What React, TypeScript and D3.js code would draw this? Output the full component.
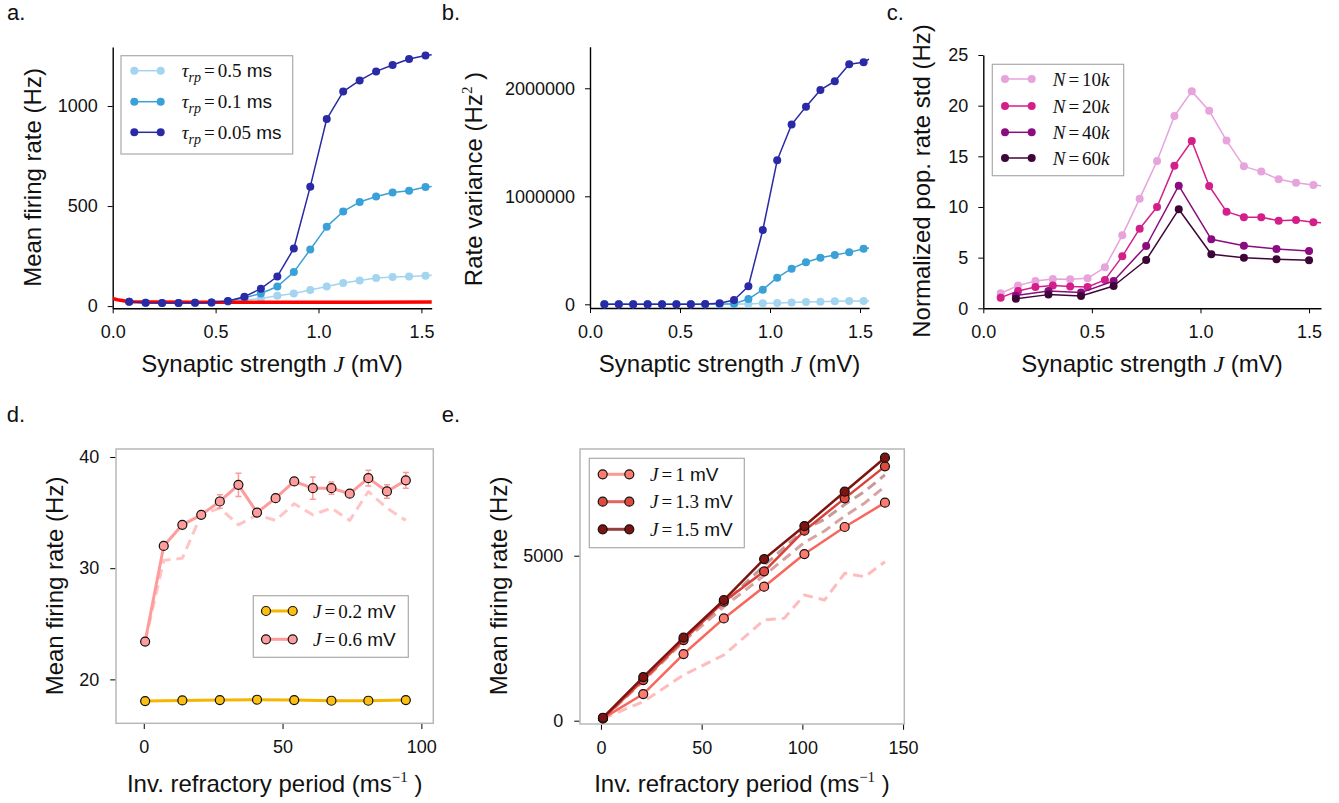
import { useEffect, useRef } from "react";
import * as d3 from "d3";

const SANS = "'Liberation Sans', Arial, Helvetica, sans-serif";
const SERIF = "'Liberation Serif', 'Times New Roman', serif";

// synaptic strength J (mV), panels a-c (last point lies past the axis and gets clipped)
const jValues = [0.08, 0.16, 0.24, 0.32, 0.4, 0.48, 0.56, 0.64, 0.72, 0.8, 0.88, 0.96, 1.04, 1.12, 1.2, 1.28, 1.36, 1.44, 1.52, 1.6];
const jCoarse = [0.15, 0.3, 0.45, 0.6, 0.75, 0.9, 1.05, 1.2, 1.35, 1.5];

// a. mean firing rate (Hz)
const rateTau05 = [22, 17, 15, 15, 17, 18, 22, 30, 38, 52, 63, 80, 98, 115, 128, 140, 145, 148, 152, 156];
const rateTau01 = [22, 17, 15, 15, 17, 18, 24, 42, 63, 98, 170, 283, 397, 473, 520, 548, 568, 577, 595, 602];
const rateTau005 = [22, 17, 15, 15, 17, 18, 25, 47, 87, 148, 288, 597, 935, 1072, 1128, 1173, 1205, 1235, 1252, 1262];
const theoryJ = [0, 0.03, 0.06, 0.1, 0.2, 0.4, 0.8, 1.2, 1.6];
const theoryRate = [38, 30, 25, 21.5, 20, 19.5, 19.5, 19.5, 20];

// b. rate variance (Hz^2)
const varTau05 = [0, 0, 0, 0, 0, 0, 0, 0, 0, 2000, 4000, 9000, 12000, 18000, 22000, 25000, 28000, 31000, 31000, 33000];
const varTau01 = [0, 0, 0, 0, 0, 0, 0, 0, 3000, 6000, 49000, 136000, 247000, 330000, 389000, 432000, 457000, 481000, 515000, 534000];
const varTau005 = [0, 0, 0, 0, 0, 0, 0, 2000, 9000, 40000, 167000, 688000, 1333000, 1664000, 1830000, 1985000, 2065000, 2222000, 2241000, 2320000];

// c. normalized population rate std (Hz)
const std10k = [1.48, 2.24, 2.7, 2.89, 2.86, 2.96, 4.05, 7.2, 10.82, 14.54, 18.98, 21.41, 19.5, 16.55, 14.01, 13.49, 12.73, 12.4, 12.17, 12.0];
const std20k = [1.05, 1.71, 2.1, 2.24, 2.14, 2.1, 2.8, 5.13, 7.86, 10.0, 14.08, 16.51, 12.07, 9.54, 8.98, 8.98, 8.65, 8.72, 8.49, 8.4];
const std40k = [1.25, 1.71, 1.55, 2.7, 6.15, 12.1, 6.81, 6.18, 5.86, 5.66];
const std60k = [0.95, 1.35, 1.22, 2.2, 4.77, 9.77, 5.33, 5.0, 4.84, 4.74];

// d. mean firing rate vs inverse refractory period (ms^-1)
const invRefD = [0.5, 7.2, 13.9, 20.7, 27.4, 34.1, 40.8, 47.5, 54.2, 60.9, 67.6, 74.2, 80.9, 87.6, 94.4];
const rateJ06 = [23.4, 32.0, 33.9, 34.8, 36.0, 37.5, 35.0, 36.3, 37.8, 37.2, 37.2, 36.7, 38.1, 36.9, 37.9];
const errJ06 = [0.1, 0.15, 0.15, 0.2, 0.6, 1.05, 0.35, 0.2, 0.2, 1.0, 0.55, 0.2, 0.7, 0.6, 0.7];
const theoryJ06 = [23.4, 30.7, 30.9, 34.8, 35.4, 33.9, 34.8, 34.3, 35.8, 34.8, 35.4, 34.3, 36.9, 35.4, 34.3];
const invRefD02 = [0.5, 13.9, 27.4, 40.8, 54.2, 67.6, 80.9, 94.4];
const rateJ02 = [18.05, 18.11, 18.14, 18.17, 18.14, 18.08, 18.08, 18.14];

// e. high coupling
const invRefE = [1, 21, 41, 61, 81, 101, 121, 141];
const rateJ1 = [70, 808, 2020, 3100, 4060, 5050, 5870, 6606];
const rateJ13 = [70, 1232, 2444, 3606, 4525, 5757, 6737, 7707];
const rateJ15 = [90, 1323, 2515, 3657, 4899, 5899, 6939, 7970];
const invRefEDash = [1, 21, 41, 61, 81, 91, 101, 111, 121, 131, 141];
const theoryJ1 = [70, 576, 1385, 1991, 3052, 3103, 3809, 3658, 4467, 4364, 4818];
const theoryJ13 = [60, 1200, 2400, 3450, 4400, 4900, 5400, 5750, 6200, 6600, 7100];
const theoryJ15 = [60, 1280, 2480, 3550, 4700, 5250, 5800, 6100, 6550, 6950, 7450];

type Part = { t: string; f: "it" | "rm" | "sans"; size?: number; dy?: number; dx?: number };

function rich(text: any, parts: Part[]) {
    parts.forEach((p) => {
        const ts = text
            .append("tspan")
            .text(p.t)
            .attr("font-family", p.f === "sans" ? SANS : SERIF)
            .attr("font-style", p.f === "it" ? "italic" : "normal");
        if (p.size) ts.attr("font-size", p.size);
        if (p.dy) ts.attr("dy", p.dy);
        if (p.dx) ts.attr("dx", p.dx);
    });
}

function drawAxes(svg: any, x: any, y: any, xt: number[], yt: number[], xf: any, yf: any, boxed: boolean) {
    const [x0, x1] = x.range();
    const [yb, yt0] = y.range();
    if (boxed) {
        svg.append("rect")
            .attr("x", x0)
            .attr("y", yt0)
            .attr("width", x1 - x0)
            .attr("height", yb - yt0)
            .attr("fill", "none")
            .attr("stroke", "#b8b8b8")
            .attr("stroke-width", 1.5);
    }
    const gx = svg
        .append("g")
        .attr("transform", `translate(0,${boxed ? yb + 0.75 : yb})`)
        .call(d3.axisBottom(x).tickValues(xt).tickFormat(xf).tickSize(5).tickPadding(boxed ? 11 : 12).tickSizeOuter(0));
    const gy = svg
        .append("g")
        .attr("transform", `translate(${boxed ? x0 - 0.75 : x0},0)`)
        .call(d3.axisLeft(y).tickValues(yt).tickFormat(yf).tickSize(5).tickPadding(boxed ? 11 : 10).tickSizeOuter(0));
    [gx, gy].forEach((g) => {
        g.attr("font-size", 18).attr("font-family", SANS).style("color", "#000");
        g.selectAll("text").attr("fill", "#111");
        g.selectAll(".tick line").attr("stroke-width", 1);
        if (boxed) g.select(".domain").remove();
        else g.select(".domain").attr("stroke-width", 1.4);
    });
}

function labels(svg: any, tag: string, tagPos: number[], xl: Part[], xlPos: number[], yl: Part[], ylPos: number[]) {
    svg.append("text")
        .attr("x", tagPos[0])
        .attr("y", tagPos[1])
        .attr("font-family", SANS)
        .attr("font-size", 22)
        .attr("fill", "#111")
        .text(tag);
    const tx = svg
        .append("text")
        .attr("x", xlPos[0])
        .attr("y", xlPos[1])
        .attr("text-anchor", "middle")
        .attr("font-size", 24)
        .attr("fill", "#111");
    rich(tx, xl);
    const ty = svg
        .append("text")
        .attr("transform", `translate(${ylPos[0]},${ylPos[1]}) rotate(-90)`)
        .attr("text-anchor", "middle")
        .attr("font-size", 24)
        .attr("fill", "#111");
    rich(ty, yl);
}

function series(g: any, x: any, y: any, xs: number[], ys: number[], o: any) {
    const pts = xs.map((v, i) => [v, ys[i]]);
    const path = g
        .append("path")
        .datum(pts)
        .attr("d", d3.line().x((d: any) => x(d[0])).y((d: any) => y(d[1])))
        .attr("fill", "none")
        .attr("stroke", o.color)
        .attr("stroke-width", o.lw)
        .attr("stroke-linejoin", "round")
        .attr("opacity", o.opacity ?? 1);
    if (o.dash) path.attr("stroke-dasharray", o.dash);
    if (o.r) {
        g.selectAll(null)
            .data(pts)
            .join("circle")
            .attr("cx", (d: any) => x(d[0]))
            .attr("cy", (d: any) => y(d[1]))
            .attr("r", o.r)
            .attr("fill", o.fill ?? o.color)
            .attr("stroke", o.edge ?? "none")
            .attr("stroke-width", o.edge ? 1.2 : 0);
    }
}

function legend(svg: any, box: number[], lineX: number[], textX: number, rows: any[]) {
    svg.append("rect")
        .attr("x", box[0])
        .attr("y", box[1])
        .attr("width", box[2])
        .attr("height", box[3])
        .attr("fill", "#fff")
        .attr("stroke", "#aaa")
        .attr("stroke-width", 1.2);
    rows.forEach((r) => {
        svg.append("line")
            .attr("x1", lineX[0])
            .attr("x2", lineX[1])
            .attr("y1", r.y)
            .attr("y2", r.y)
            .attr("stroke", r.line ?? r.color)
            .attr("stroke-width", r.lw);
        lineX.forEach((lx) =>
            svg.append("circle")
                .attr("cx", lx)
                .attr("cy", r.y)
                .attr("r", r.r)
                .attr("fill", r.fill ?? r.color)
                .attr("stroke", r.edge ?? "none")
                .attr("stroke-width", r.edge ? 1.2 : 0)
        );
        const t = svg.append("text").attr("x", textX).attr("y", r.y + 6.5).attr("font-size", 19).attr("fill", "#111");
        rich(t, r.parts);
    });
}

function clipped(svg: any, id: string, x: any) {
    const [x0, x1] = x.range();
    svg.append("clipPath").attr("id", id).append("rect").attr("x", x0).attr("y", 0).attr("width", x1 - x0).attr("height", 803);
    return svg.append("g").attr("clip-path", `url(#${id})`);
}

const jLabel: Part[] = [
    { t: "Synaptic strength ", f: "sans" },
    { t: "J", f: "it" },
    { t: " (mV)", f: "sans" },
];
const invLabel: Part[] = [
    { t: "Inv. refractory period (ms", f: "sans" },
    { t: "−1", f: "rm", size: 15, dy: -10 },
    { t: " )", f: "sans", dy: 10 },
];
const tauParts = (v: string): Part[] => [
    { t: "τ", f: "it" },
    { t: "rp", f: "it", size: 14, dy: 5 },
    { t: "=", f: "rm", dy: -5, dx: 3 },
    { t: v, f: "rm", dx: 3 },
    { t: " ms", f: "sans" },
];
const nParts = (v: string): Part[] => [
    { t: "N", f: "it" },
    { t: "=", f: "rm", dx: 3 },
    { t: v, f: "rm", dx: 3 },
    { t: "k", f: "it" },
];
const jParts = (v: string): Part[] => [
    { t: "J", f: "it" },
    { t: "=", f: "rm", dx: 3 },
    { t: v, f: "rm", dx: 3 },
    { t: " mV", f: "sans" },
];

const BLUE_L = "#a3d4f0";
const BLUE_M = "#39a0d8";
const BLUE_D = "#2a2aa6";
const PINK_10 = "#e6a3dc";
const PINK_20 = "#d41f8a";
const PINK_40 = "#8a0c80";
const PINK_60 = "#3e0637";

export default function App() {
    const svgRef = useRef<SVGSVGElement>(null);

    useEffect(() => {
        const svg = d3.select(svgRef.current);
        svg.selectAll("*").remove();
        const f1 = d3.format(".1f");
        const fd = d3.format("d");

        // a.
        const xa = d3.scaleLinear().domain([0, 1.55]).range([112.7, 431.7]);
        const ya = d3.scaleLinear().domain([-11, 1295]).range([308.3, 47]);
        drawAxes(svg, xa, ya, [0, 0.5, 1, 1.5], [0, 500, 1000], f1, fd, false);
        const ga = clipped(svg, "clipA", xa);
        series(ga, xa, ya, jValues, rateTau05, { color: BLUE_L, lw: 1.5, r: 4 });
        series(ga, xa, ya, jValues, rateTau01, { color: BLUE_M, lw: 1.5, r: 4 });
        series(ga, xa, ya, theoryJ, theoryRate, { color: "#ff0000", lw: 3.5 });
        series(ga, xa, ya, jValues, rateTau005, { color: BLUE_D, lw: 1.5, r: 4 });
        legend(svg, [121, 55.7, 171.7, 98.3], [134.3, 160.7], 181.7, [
            { y: 70.7, color: BLUE_L, lw: 1.5, r: 4, parts: tauParts("0.5") },
            { y: 101.7, color: BLUE_M, lw: 1.5, r: 4, parts: tauParts("0.1") },
            { y: 132.3, color: BLUE_D, lw: 1.5, r: 4, parts: tauParts("0.05") },
        ]);
        labels(svg, "a.", [7, 20], jLabel, [272, 372], [{ t: "Mean firing rate (Hz)", f: "sans" }], [40.5, 177.5]);

        // b.
        const xb = d3.scaleLinear().domain([0, 1.55]).range([590, 869]);
        const yb = d3.scaleLinear().domain([-34000, 2385000]).range([308, 46.7]);
        drawAxes(svg, xb, yb, [0, 0.5, 1, 1.5], [0, 1000000, 2000000], f1, fd, false);
        const gb = clipped(svg, "clipB", xb);
        series(gb, xb, yb, jValues, varTau05, { color: BLUE_L, lw: 1.5, r: 4 });
        series(gb, xb, yb, jValues, varTau01, { color: BLUE_M, lw: 1.5, r: 4 });
        series(gb, xb, yb, jValues, varTau005, { color: BLUE_D, lw: 1.5, r: 4 });
        labels(svg, "b.", [441.7, 20], jLabel, [729.5, 372], [
            { t: "Rate variance (Hz", f: "sans" },
            { t: "2", f: "rm", size: 15, dy: -10 },
            { t: " )", f: "sans", dy: 10 },
        ], [481.7, 179]);

        // c.
        const xc = d3.scaleLinear().domain([0, 1.555]).range([983.3, 1321]);
        const yc = d3.scaleLinear().domain([0, 25]).range([308.3, 55]);
        drawAxes(svg, xc, yc, [0, 0.5, 1, 1.5], [0, 5, 10, 15, 20, 25], f1, fd, false);
        const gc = clipped(svg, "clipC", xc);
        series(gc, xc, yc, jValues, std10k, { color: PINK_10, lw: 1.5, r: 4 });
        series(gc, xc, yc, jValues, std20k, { color: PINK_20, lw: 1.5, r: 4 });
        series(gc, xc, yc, jCoarse, std40k, { color: PINK_40, lw: 1.5, r: 4 });
        series(gc, xc, yc, jCoarse, std60k, { color: PINK_60, lw: 1.5, r: 4 });
        legend(svg, [992.3, 64.3, 131.4, 111.4], [1005, 1031.7], 1052.7, [
            { y: 79, color: PINK_10, lw: 1.5, r: 4, parts: nParts("10") },
            { y: 106, color: PINK_20, lw: 1.5, r: 4, parts: nParts("20") },
            { y: 132.3, color: PINK_40, lw: 1.5, r: 4, parts: nParts("40") },
            { y: 158, color: PINK_60, lw: 1.5, r: 4, parts: nParts("60") },
        ]);
        labels(svg, "c.", [886.7, 20], jLabel, [1152, 372], [{ t: "Normalized pop. rate std (Hz)", f: "sans" }], [930, 181]);

        // d.
        const xd = d3.scaleLinear().domain([-10, 104.3]).range([116, 433.3]);
        const yd = d3.scaleLinear().domain([16.05, 40.72]).range([723.3, 449]);
        drawAxes(svg, xd, yd, [0, 50, 100], [20, 30, 40], fd, fd, true);
        const gd = svg.append("g");
        series(gd, xd, yd, invRefD, theoryJ06, { color: "#ffc4c4", lw: 3, dash: "10,6" });
        series(gd, xd, yd, invRefD02, rateJ02, { color: "#f7b500", lw: 3, r: 4.5, fill: "#fcbf10", edge: "#111" });
        gd.selectAll(null)
            .data(invRefD.map((v, i) => [v, rateJ06[i], errJ06[i]]))
            .join("path")
            .attr("d", (d: any) => {
                const cx = xd(d[0]);
                const t = yd(d[1] + d[2]);
                const b = yd(d[1] - d[2]);
                return `M${cx},${t}V${b}M${cx - 3},${t}H${cx + 3}M${cx - 3},${b}H${cx + 3}`;
            })
            .attr("stroke", "#ff9a9a")
            .attr("stroke-width", 1.5)
            .attr("fill", "none");
        series(gd, xd, yd, invRefD, rateJ06, { color: "#ff9b9b", lw: 3, r: 4.5, fill: "#ff9c9c", edge: "#111" });
        legend(svg, [253.3, 595.7, 155, 61.6], [266, 292.7], 313, [
            { y: 611, color: "#f7b500", fill: "#fcbf10", edge: "#111", lw: 3, r: 4.5, parts: jParts("0.2") },
            { y: 639.3, color: "#ff9b9b", fill: "#ff9c9c", edge: "#111", lw: 3, r: 4.5, parts: jParts("0.6") },
        ]);
        labels(svg, "d.", [6.7, 421.7], invLabel, [274.7, 792], [{ t: "Mean firing rate (Hz)", f: "sans" }], [62.7, 586]);

        // e.
        const xe = d3.scaleLinear().domain([-10.4, 150.6]).range([580, 904.3]);
        const ye = d3.scaleLinear().domain([-100, 8233]).range([724, 449]);
        drawAxes(svg, xe, ye, [0, 50, 100, 150], [0, 5000], fd, fd, true);
        const ge = svg.append("g");
        series(ge, xe, ye, invRefEDash, theoryJ1, { color: "#ffbcbc", lw: 3, dash: "10,6" });
        series(ge, xe, ye, invRefEDash, theoryJ13, { color: "#d08c8c", lw: 3, dash: "10,6", opacity: 0.8 });
        series(ge, xe, ye, invRefEDash, theoryJ15, { color: "#b47878", lw: 3, dash: "10,6", opacity: 0.75 });
        series(ge, xe, ye, invRefE, rateJ1, { color: "#f8665c", lw: 2.5, r: 4.5, fill: "#ff7b6f", edge: "#111" });
        series(ge, xe, ye, invRefE, rateJ13, { color: "#d9423a", lw: 2.5, r: 4.5, fill: "#de4a3e", edge: "#111" });
        series(ge, xe, ye, invRefE, rateJ15, { color: "#7c1410", lw: 2.5, r: 4.5, fill: "#7e1411", edge: "#111" });
        legend(svg, [589.3, 458.3, 155, 89.4], [602.7, 629.3], 650, [
            { y: 474.3, color: "#ff7b6f", line: "#fb9a92", edge: "#111", lw: 3, r: 4.5, parts: jParts("1") },
            { y: 501.7, color: "#de4a3e", line: "#e0685f", edge: "#111", lw: 3, r: 4.5, parts: jParts("1.3") },
            { y: 529.3, color: "#7e1411", line: "#93403d", edge: "#111", lw: 3, r: 4.5, parts: jParts("1.5") },
        ]);
        labels(svg, "e.", [441.7, 421.7], invLabel, [742, 792], [{ t: "Mean firing rate (Hz)", f: "sans" }], [506.7, 586]);
    }, []);

    return (
        <svg
            ref={svgRef}
            width={1339}
            height={803}
            style={{ position: "absolute", left: 0, top: 0, background: "#fff" }}
        ></svg>
    );
}
